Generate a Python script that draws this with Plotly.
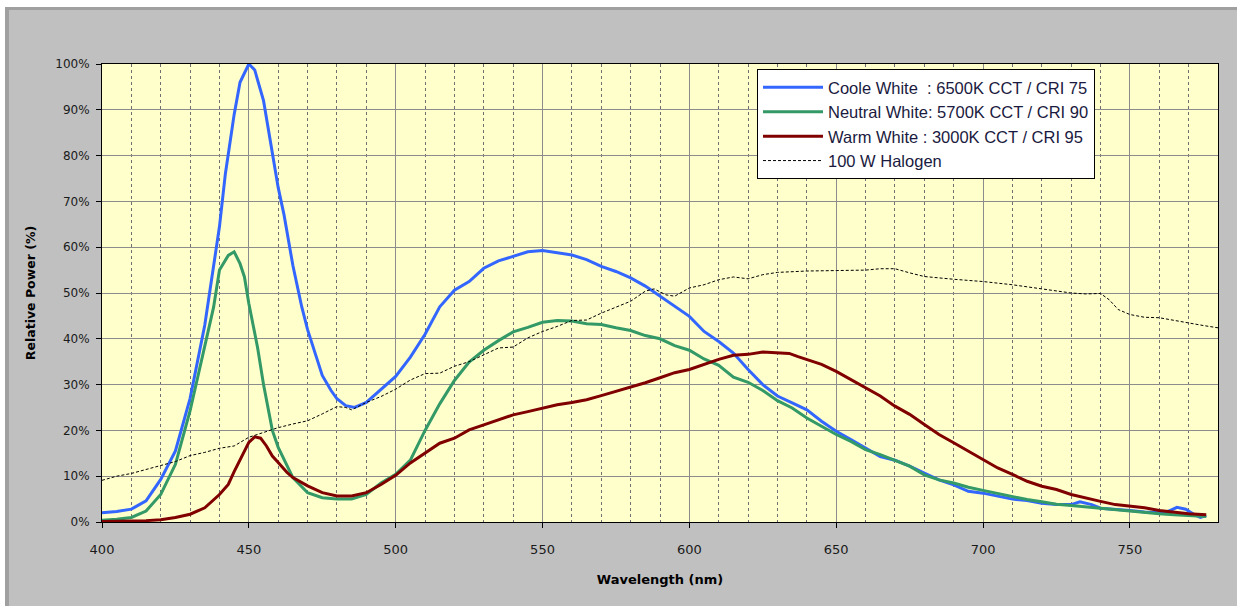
import plotly.graph_objects as go

# ---------------- data ----------------
cool_wl = [400, 405, 410, 415, 420, 425, 430, 435, 440, 442, 445, 447, 450, 452, 455, 458, 460, 462,
           465, 468, 470, 473, 475, 478, 480, 483, 486, 490, 495, 500, 505, 510, 515, 520, 525, 530,
           535, 540, 545, 550, 555, 560, 565, 570, 575, 580, 585, 590, 595, 600, 605, 610, 615, 620,
           625, 630, 635, 640, 645, 650, 655, 660, 665, 670, 675, 680, 685, 690, 695, 700, 705, 710,
           715, 720, 725, 730, 733, 737, 740, 745, 750, 755, 760, 763, 766, 769, 772, 774, 776]
cool_pct = [2.0, 2.3, 2.8, 4.6, 9.3, 15.5, 27.0, 43.0, 64.5, 76.0, 89.0, 96.0, 100.0, 98.7, 92.0, 81.0,
            73.0, 67.0, 56.0, 47.0, 42.0, 36.0, 32.0, 28.7, 26.9, 25.4, 25.0, 26.1, 29.0, 31.8, 36.0,
            41.0, 47.0, 50.6, 52.5, 55.4, 57.0, 58.0, 59.0, 59.3, 58.8, 58.3, 57.3, 55.8, 54.7, 53.3,
            51.5, 49.3, 47.0, 44.9, 41.6, 39.4, 36.9, 33.3, 30.0, 27.5, 26.0, 24.5, 22.0, 19.8, 18.0,
            16.1, 14.3, 13.5, 12.2, 10.7, 9.2, 8.1, 6.7, 6.3, 5.6, 5.0, 4.7, 4.1, 3.8, 3.8, 4.4, 3.8,
            3.0, 2.8, 2.5, 2.2, 2.0, 2.3, 3.2, 2.8, 1.6, 1.0, 1.4]

neutral_wl = [400, 405, 410, 415, 420, 425, 430, 435, 438, 440, 443, 445, 447, 448.5, 450, 453, 455,
              458, 460, 465, 470, 475, 480, 485, 490, 495, 500, 505, 510, 515, 520, 525, 530, 535,
              540, 545, 550, 555, 560, 565, 570, 575, 580, 585, 590, 595, 600, 605, 610, 615, 620,
              625, 630, 635, 640, 645, 650, 655, 660, 665, 670, 675, 680, 685, 690, 695, 700, 705,
              710, 715, 720, 725, 730, 735, 740, 745, 750, 755, 760, 765, 770, 776]
neutral_pct = [0.4, 0.6, 1.0, 2.4, 6.0, 12.6, 24.3, 38.0, 46.9, 55.0, 58.2, 59.0, 56.4, 53.5, 47.7,
               38.0, 30.0, 20.0, 16.3, 9.7, 6.4, 5.3, 5.0, 5.0, 6.0, 8.5, 10.4, 13.5, 20.0, 25.8,
               30.9, 34.9, 37.5, 39.6, 41.5, 42.5, 43.6, 44.0, 43.9, 43.3, 43.1, 42.4, 41.8, 40.7,
               40.0, 38.5, 37.5, 35.6, 34.2, 31.6, 30.5, 28.7, 26.5, 24.9, 22.7, 20.9, 19.1, 17.6,
               15.8, 14.7, 13.5, 12.2, 10.3, 9.2, 8.5, 7.6, 6.9, 6.2, 5.5, 4.9, 4.4, 3.9, 3.6, 3.3,
               2.9, 2.7, 2.3, 2.1, 1.8, 1.6, 1.4, 1.2]

warm_wl = [400, 410, 415, 420, 425, 430, 435, 440, 443, 445, 448, 450, 452, 454, 456, 458, 460, 463,
           465, 470, 475, 480, 485, 490, 495, 500, 505, 510, 515, 520, 525, 530, 535, 540, 545, 550,
           555, 560, 565, 570, 575, 580, 585, 590, 595, 600, 605, 610, 615, 620, 625, 630, 634, 637,
           640, 645, 650, 655, 660, 665, 670, 675, 680, 685, 690, 695, 700, 705, 710, 715, 720, 725,
           730, 735, 740, 745, 750, 755, 760, 765, 770, 776]
warm_pct = [0.1, 0.2, 0.3, 0.5, 1.0, 1.7, 3.1, 6.0, 8.2, 11.0, 14.8, 17.4, 18.6, 18.3, 16.6, 14.4,
            13.0, 10.8, 9.7, 7.9, 6.4, 5.7, 5.7, 6.4, 8.2, 10.2, 12.9, 15.0, 17.2, 18.3, 20.1, 21.2,
            22.3, 23.4, 24.1, 24.9, 25.6, 26.1, 26.7, 27.6, 28.5, 29.5, 30.4, 31.5, 32.6, 33.3, 34.4,
            35.5, 36.4, 36.6, 37.1, 37.0, 36.8, 36.1, 35.5, 34.4, 32.9, 31.1, 29.3, 27.5, 25.3,
            23.5, 21.3, 19.1, 17.3, 15.5, 13.7, 11.8, 10.4, 8.9, 7.8, 7.1, 6.0, 5.2, 4.5, 3.8, 3.4,
            3.1, 2.5, 2.1, 1.8, 1.6]

halogen_wl = [400, 405, 410, 415, 420, 425, 430, 435, 440, 445, 450, 455, 460, 465, 470, 475, 480,
              483, 485, 490, 495, 500, 505, 510, 515, 520, 525, 530, 535, 540, 545, 550, 555, 560,
              565, 570, 575, 580, 585, 588, 592, 595, 600, 605, 610, 615, 620, 625, 630, 640, 650,
              660, 665, 670, 675, 680, 690, 700, 710, 720, 730, 735, 740, 743, 746, 750, 755, 760,
              765, 770, 775, 780]
halogen_pct = [9.1, 10.0, 10.6, 11.5, 12.3, 13.2, 14.5, 15.2, 16.1, 16.6, 18.5, 19.6, 20.6, 21.4,
               22.1, 23.6, 25.2, 25.0, 24.5, 26.1, 27.4, 29.0, 31.0, 32.4, 32.5, 34.0, 35.0, 36.5,
               38.0, 38.2, 40.2, 41.6, 42.7, 44.0, 44.1, 45.6, 46.9, 48.2, 50.4, 50.9, 49.6, 49.3,
               51.1, 51.8, 52.9, 53.5, 53.1, 54.0, 54.5, 54.8, 54.9, 55.0, 55.3, 55.3, 54.4, 53.6,
               53.0, 52.5, 51.8, 50.9, 50.0, 49.8, 49.9, 48.5, 46.4, 45.3, 44.7, 44.6, 44.0, 43.5,
               42.9, 42.4]

names = ["Coole White\u00a0\u00a0: 6500K CCT / CRI 75",
         "Neutral White: 5700K CCT / CRI 90",
         "Warm White : 3000K CCT / CRI 95",
         "100 W Halogen"]

x_title = "Wavelength (nm)"
y_title = "Relative Power (%)"

# ---------------- figure ----------------
fig = go.Figure()
fig.add_trace(go.Scatter(x=cool_wl, y=cool_pct, mode="lines", name=names[0],
                         line=dict(color="#3366FF", width=3)))
fig.add_trace(go.Scatter(x=neutral_wl, y=neutral_pct, mode="lines", name=names[1],
                         line=dict(color="#339966", width=3)))
fig.add_trace(go.Scatter(x=warm_wl, y=warm_pct, mode="lines", name=names[2],
                         line=dict(color="#800000", width=3)))
fig.add_trace(go.Scatter(x=halogen_wl, y=halogen_pct, mode="lines", name=names[3],
                         line=dict(color="#000000", width=1, dash="3px,2px")))

W, H = 1237, 606
L, R, T, B = 102, 19, 64, 84
pw, ph = W - L - R, H - T - B


def px(xpix):
    return (xpix - L) / pw


def py(ypix):
    return (H - B - ypix) / ph


shapes = [
    # white margin top and left
    dict(type="rect", xref="paper", yref="paper", x0=px(0), x1=px(W), y0=py(7), y1=py(0),
         fillcolor="white", line=dict(width=0), layer="below"),
    dict(type="rect", xref="paper", yref="paper", x0=px(0), x1=px(5), y0=py(H), y1=py(0),
         fillcolor="white", line=dict(width=0), layer="below"),
    # darker frame edge
    dict(type="rect", xref="paper", yref="paper", x0=px(5), x1=px(W), y0=py(10), y1=py(7),
         fillcolor="#A0A0A0", line=dict(width=0), layer="below"),
    dict(type="rect", xref="paper", yref="paper", x0=px(5), x1=px(9), y0=py(H), y1=py(7),
         fillcolor="#A0A0A0", line=dict(width=0), layer="below"),
]

fig.update_layout(
    width=W, height=H,
    margin=dict(l=L, r=R, t=T, b=B, pad=0),
    paper_bgcolor="#C0C0C0",
    plot_bgcolor="#FFFFCC",
    shapes=shapes,
    showlegend=True,
    legend=dict(x=px(757), y=py(69), xanchor="left", yanchor="top",
                bgcolor="white", bordercolor="black", borderwidth=1,
                font=dict(family="Liberation Sans, Arial", size=16.5, color="#1a1a40"),
                tracegroupgap=0, itemwidth=60, entrywidth=355, entrywidthmode="pixels"),
    xaxis=dict(range=[400, 780], tick0=400, dtick=50, showgrid=True, gridcolor="#8c8c8c",
               gridwidth=1, zeroline=False, showline=True, linecolor="black", linewidth=1,
               mirror=True, ticks="outside", ticklen=5, tickcolor="black",
               ticklabelstandoff=10,
               tickfont=dict(family="DejaVu Sans", size=13, color="#1a1a1a"),
               minor=dict(dtick=10, tick0=400, showgrid=True, gridcolor="#707070",
                          griddash="3px,3px", gridwidth=1, ticks=""),
               title=dict(text=x_title, font=dict(family="DejaVu Sans", size=13, color="black",
                                                  weight="bold"), standoff=19)),
    yaxis=dict(range=[0, 100], tick0=0, dtick=10, ticksuffix="%", showgrid=True,
               gridcolor="#8c8c8c", gridwidth=1, zeroline=False, showline=True,
               linecolor="black", linewidth=1, mirror=True, ticks="outside", ticklen=5,
               tickcolor="black", ticklabelstandoff=4,
               tickfont=dict(family="DejaVu Sans", size=12, color="#1a1a1a"),
               title=dict(text=y_title, font=dict(family="DejaVu Sans", size=12.5, color="black",
                                                  weight="bold"), standoff=16)),
)

fig.write_html("out.html", config={"displayModeBar": False},
               post_script="document.body.style.margin='0';document.body.style.overflow='hidden';")
